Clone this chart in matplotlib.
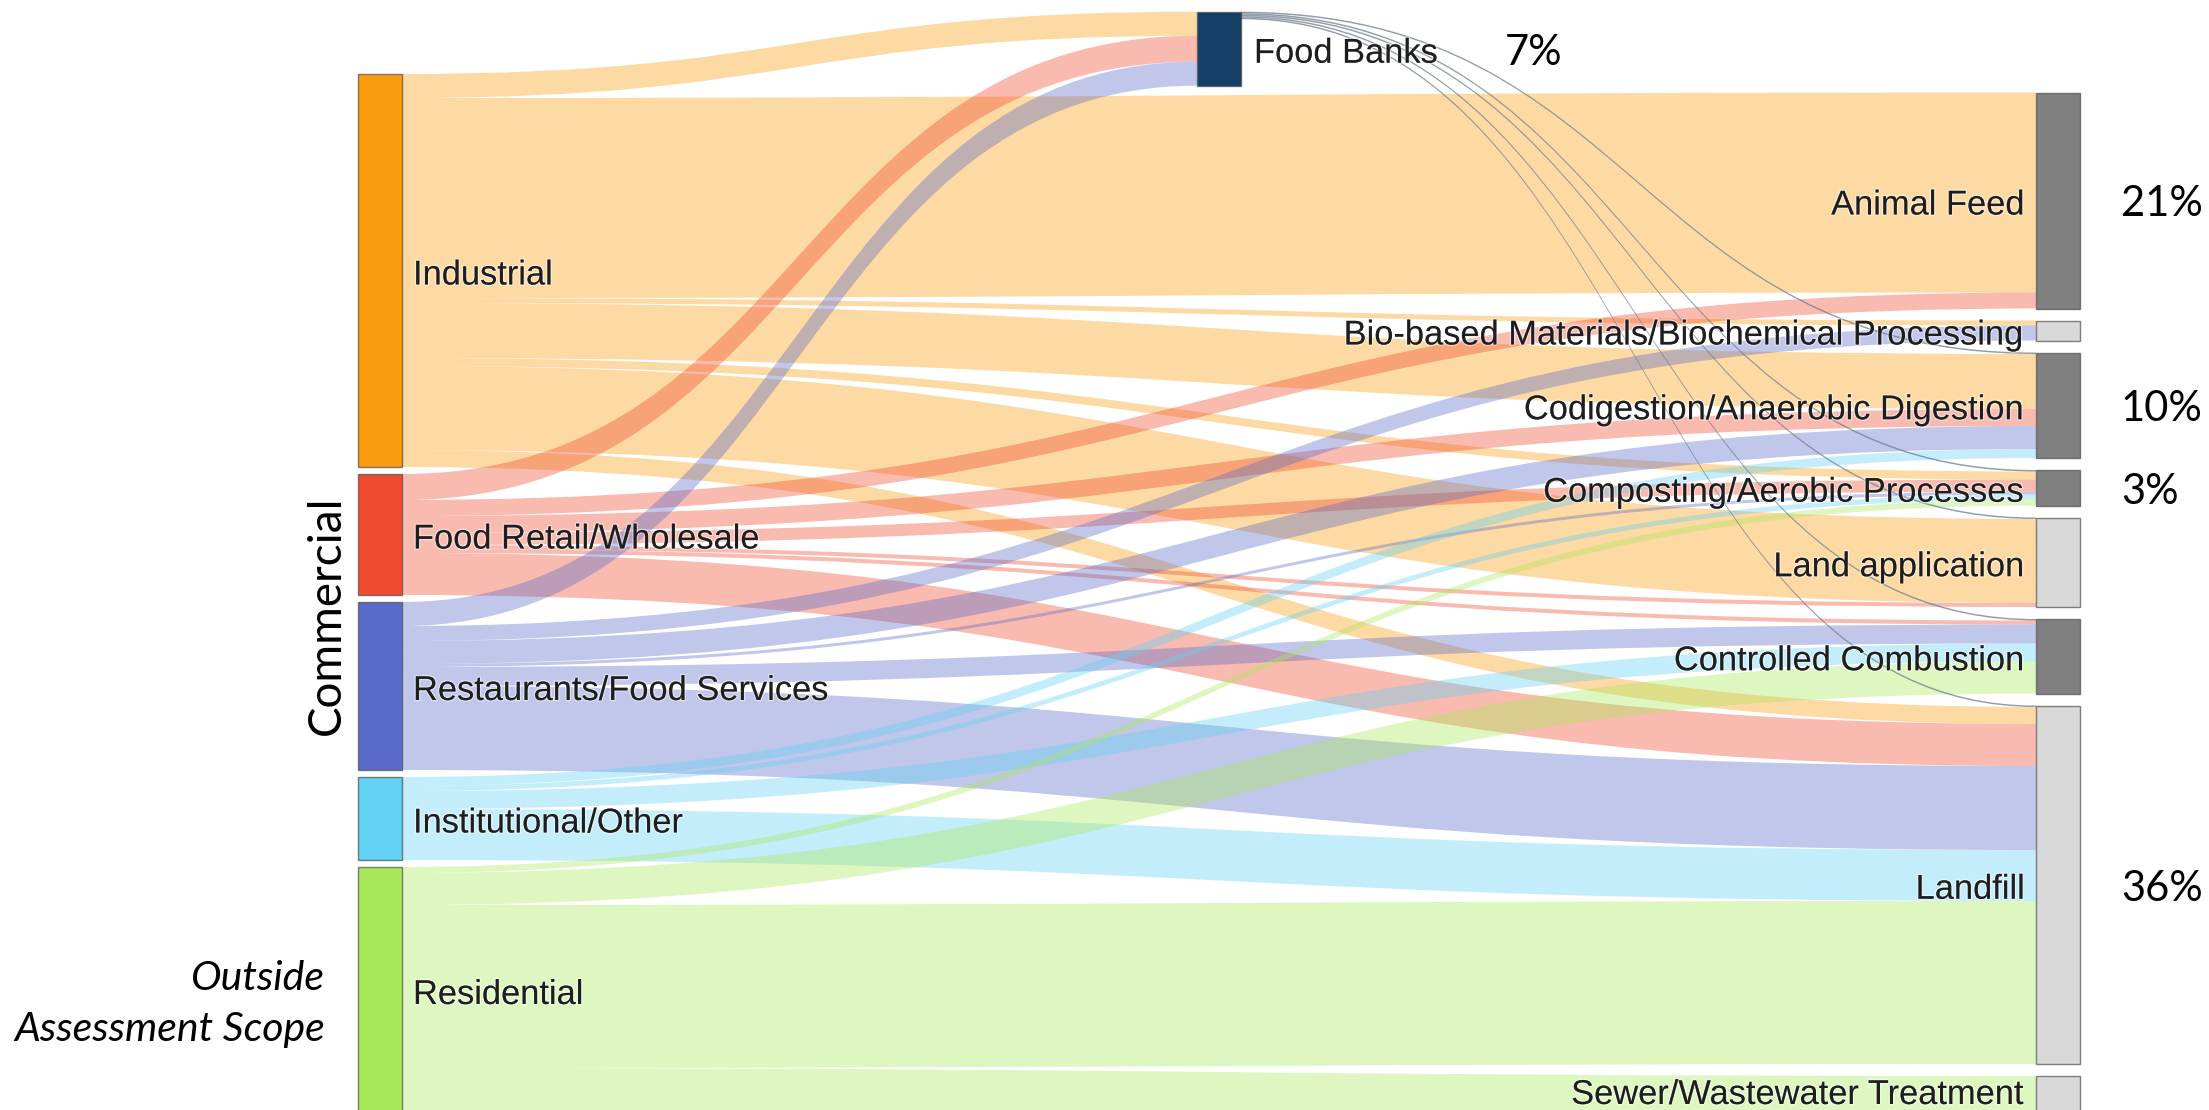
import matplotlib
matplotlib.use("Agg")
import matplotlib.pyplot as plt
from matplotlib.path import Path
from matplotlib.patches import PathPatch, Rectangle
import matplotlib.patheffects as pe

# ---------------- data ----------------
sources = ["Industrial", "Food Retail/Wholesale", "Restaurants/Food Services",
           "Institutional/Other", "Residential"]
hub = "Food Banks"
destinations = ["Animal Feed", "Bio-based Materials/Biochemical Processing",
                "Codigestion/Anaerobic Digestion", "Composting/Aerobic Processes",
                "Land application", "Controlled Combustion", "Landfill",
                "Sewer/Wastewater Treatment"]

# flow from each source to Food Banks
to_food_banks = [24, 26, 24, 0, 0]
# flow from each source to each destination (columns follow `destinations`)
industrial_flows    = [200, 5, 55, 8, 84, 0, 17, 0]
food_retail_flows   = [16, 0, 17, 12, 4, 4, 42, 0]
restaurant_flows    = [0, 15, 23, 3, 0, 19, 84, 0]
institutional_flows = [0, 0, 9, 5, 0, 18, 51, 0]
residential_flows   = [0, 0, 0, 6, 0, 32, 163, 45]
food_bank_flows     = [0, 0, 1.5, 1.5, 1.5, 1.5, 1.5, 0]

percent_labels = {"Food Banks": "7%", "Animal Feed": "21%",
                  "Codigestion/Anaerobic Digestion": "10%",
                  "Composting/Aerobic Processes": "3%", "Landfill": "36%"}

# ---------------- styles ----------------
source_colors = ["#FB9C0F", "#F04B30", "#5A6CC9", "#62D1F3", "#A9E85A"]
hub_color = "#143F66"
dest_dark = "#808080"
dest_light = "#D9D9D9"
dest_colors = [dest_dark, dest_light, dest_dark, dest_dark, dest_light,
               dest_dark, dest_light, dest_light]
link_alpha = 0.38

W, H = 2209, 1110
node_w = 44
col_x = {"left": 358, "mid": 1197, "right": 2036}
col_top = {"left": 74, "mid": 11.7, "right": 92.5}
col_gap = {"left": 7, "right": 12}

# ---------------- build graph ----------------
flows_by_source = [industrial_flows, food_retail_flows, restaurant_flows,
                   institutional_flows, residential_flows]
links = []  # (src, tgt, value, color, alpha)
for i, s in enumerate(sources):
    if to_food_banks[i] > 0:
        links.append((s, hub, to_food_banks[i], source_colors[i], link_alpha))
    for j, d in enumerate(destinations):
        v = flows_by_source[i][j]
        if v > 0:
            links.append((s, d, v, source_colors[i], link_alpha))
for j, d in enumerate(destinations):
    v = food_bank_flows[j]
    if v > 0:
        links.append((hub, d, v, "#6d7d8d", 0.75))

nodes = {}
def node_value(n):
    vin = sum(l[2] for l in links if l[1] == n)
    vout = sum(l[2] for l in links if l[0] == n)
    return max(vin, vout)

y = col_top["left"]
for i, s in enumerate(sources):
    h = node_value(s)
    nodes[s] = dict(x=col_x["left"], y0=y, h=h, color=source_colors[i])
    y += h + col_gap["left"]
nodes[hub] = dict(x=col_x["mid"], y0=col_top["mid"], h=node_value(hub), color=hub_color)
y = col_top["right"]
for j, d in enumerate(destinations):
    h = node_value(d)
    nodes[d] = dict(x=col_x["right"], y0=y, h=h, color=dest_colors[j])
    y += h + col_gap["right"]

# offsets
src_off = {}
tgt_off = {}
for n in nodes:
    outs = sorted([k for k, l in enumerate(links) if l[0] == n],
                  key=lambda k: nodes[links[k][1]]["y0"])
    c = nodes[n]["y0"]
    for k in outs:
        src_off[k] = c
        c += links[k][2]
    ins = sorted([k for k, l in enumerate(links) if l[1] == n],
                 key=lambda k: nodes[links[k][0]]["y0"])
    c = nodes[n]["y0"]
    for k in ins:
        tgt_off[k] = c
        c += links[k][2]

# ---------------- draw ----------------
fig = plt.figure(figsize=(W / 100, H / 100), dpi=100)
ax = fig.add_axes([0, 0, 1, 1])
ax.set_xlim(0, W)
ax.set_ylim(H, 0)
ax.axis("off")

for k, (s, t, v, col, a) in enumerate(links):
    x0 = nodes[s]["x"] + node_w
    x1 = nodes[t]["x"]
    xm = (x0 + x1) / 2
    ys = src_off[k]
    yt = tgt_off[k]
    verts = [(x0, ys), (xm, ys), (xm, yt), (x1, yt),
             (x1, yt + v), (xm, yt + v), (xm, ys + v), (x0, ys + v), (x0, ys)]
    codes = [Path.MOVETO, Path.CURVE4, Path.CURVE4, Path.CURVE4,
             Path.LINETO, Path.CURVE4, Path.CURVE4, Path.CURVE4, Path.CLOSEPOLY]
    ax.add_patch(PathPatch(Path(verts, codes), facecolor=col, alpha=a,
                           edgecolor="none", zorder=1))

for n, d in nodes.items():
    ax.add_patch(Rectangle((d["x"], d["y0"]), node_w, d["h"], facecolor=d["color"],
                           edgecolor=(0.3, 0.3, 0.3, 0.7), linewidth=1.0, zorder=3))

label_font = dict(family=["Liberation Sans", "DejaVu Sans"], size=24.8, color="#1e1e1e")
halo = [pe.withStroke(linewidth=2, foreground=(1, 1, 1, 0.45))]
dy = 2  # small downward nudge to match baseline-centred labels
max_label_y = H - 18  # keep labels of nodes cut by the bottom edge inside the picture
for s in sources:
    d = nodes[s]
    ax.text(d["x"] + node_w + 11, min(d["y0"] + d["h"] / 2 + dy, max_label_y), s,
            ha="left", va="center_baseline", zorder=4, path_effects=halo, **label_font)
d = nodes[hub]
ax.text(d["x"] + node_w + 13, d["y0"] + d["h"] / 2 + dy, hub, ha="left",
        va="center_baseline", zorder=4, path_effects=halo, **label_font)
for n in destinations:
    d = nodes[n]
    ax.text(d["x"] - 11, min(d["y0"] + d["h"] / 2 + dy, max_label_y), n,
            ha="right", va="center_baseline", zorder=4, path_effects=halo, **label_font)

pct_font = dict(family="Lato", size=30, color="black")
for n, p in percent_labels.items():
    d = nodes[n]
    px = 1505 if n == hub else 2121
    ax.text(px, d["y0"] + d["h"] / 2 + 4, p, ha="left", va="center", zorder=4, **pct_font)

ax.text(327, 615, "Commercial", rotation=90, ha="center", va="center",
        family="Lato", size=33, color="black")
ax.text(325, 978, "Outside", ha="right", va="center", family="Lato",
        style="italic", size=29.5, color="black")
ax.text(325, 1029, "Assessment Scope", ha="right", va="center", family="Lato",
        style="italic", size=29.5, color="black")

fig.savefig("out.png", dpi=100, facecolor="white")
